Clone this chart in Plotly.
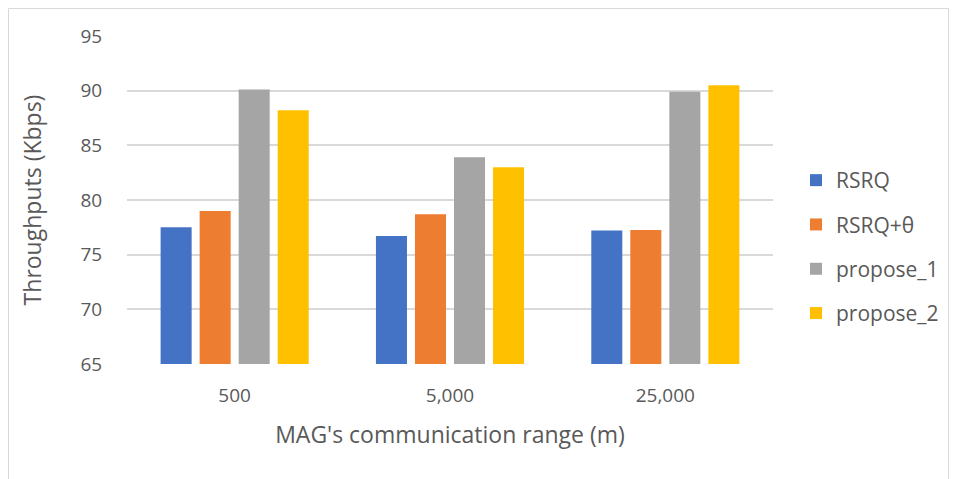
import plotly.graph_objects as go

# Communication ranges (m) and throughput results (Kbps)
ranges = ["500", "5,000", "25,000"]
series_names = ["RSRQ", "RSRQ+θ", "propose_1", "propose_2"]
rsrq = [77.5, 76.7, 77.2]
rsrq_theta = [79.0, 78.7, 77.25]
propose_1 = [90.1, 83.9, 89.9]
propose_2 = [88.2, 83.0, 90.5]
y_ticks = [65, 70, 75, 80, 85, 90, 95]

colors = ["#4472C4", "#ED7D31", "#A5A5A5", "#FFC000"]
values = [rsrq, rsrq_theta, propose_1, propose_2]

W, H = 955, 479
ML, MR, MT, MB = 127, 182, 36, 115

fig = go.Figure()
for i, (name, vals, col) in enumerate(zip(series_names, values, colors)):
    fig.add_trace(go.Bar(
        x=ranges, y=vals, name=name, marker=dict(color=col, line=dict(width=0)),
        legendgroup=f"g{i}",
    ))

font_family = "'Open Sans', Lato, sans-serif"
txt = "#595959"

# chart-area border, expressed in paper coordinates
pw = W - ML - MR
ph = H - MT - MB
def px_x(x):
    return (x - ML) / pw
def px_y(y):
    return (H - MB - y) / ph

fig.add_shape(type="rect", xref="paper", yref="paper",
              x0=px_x(8.5), x1=px_x(948.5), y0=px_y(490), y1=px_y(8.5),
              line=dict(color="#D9D9D9", width=1), fillcolor="rgba(0,0,0,0)", layer="below")

fig.update_layout(
    width=W, height=H,
    margin=dict(l=ML, r=MR, t=MT, b=MB, pad=0, autoexpand=False),
    paper_bgcolor="white", plot_bgcolor="white",
    barmode="group", bargap=0.275, bargroupgap=0.205,
    font=dict(family=font_family, color=txt, size=19),
    showlegend=True,
    legend=dict(
        x=1.0 + (796 - 773) / pw, xanchor="left",
        y=px_y(160), yanchor="top",
        font=dict(size=21, color=txt, family=font_family),
        traceorder="grouped", tracegroupgap=14,
        itemwidth=30, bgcolor="rgba(0,0,0,0)",
    ),
    xaxis=dict(
        showgrid=False, showline=False, zeroline=False,
        tickfont=dict(size=19, color=txt),
        ticks="outside", ticklen=14, tickcolor="rgba(0,0,0,0)",
        title=dict(text="MAG's communication range (m)", font=dict(size=23, color=txt), standoff=20),
    ),
    yaxis=dict(
        range=[65, 95], tickvals=y_ticks, ticktext=[str(t) for t in y_ticks],
        showgrid=True, gridcolor="#D9D9D9", gridwidth=1.5,
        zeroline=False, showline=False,
        tickfont=dict(size=19, color=txt),
        ticks="outside", ticklen=20, tickcolor="rgba(0,0,0,0)",
        title=dict(text="Throughputs (Kbps)", font=dict(size=23, color=txt), standoff=32),
    ),
)

fig.write_html("out.html")
